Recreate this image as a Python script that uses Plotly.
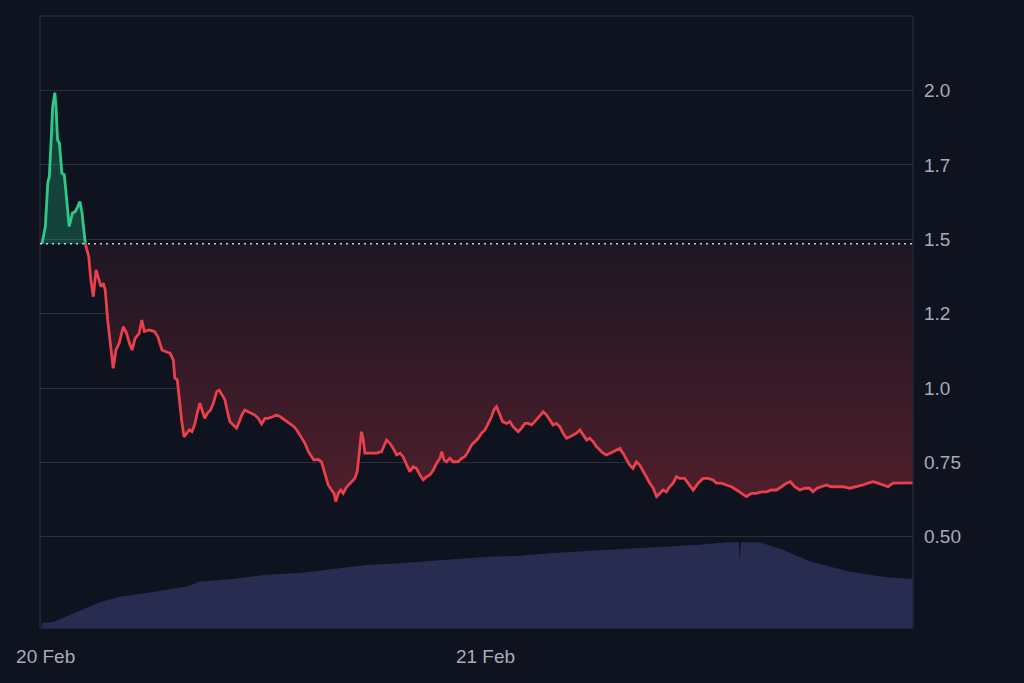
import pandas as pd
import plotly.graph_objects as go

# ---- data ----
START = "2024-02-19 23:48"
BASELINE = 1.485  # opening price (dotted line)

green_minutes = [0, 11, 19, 24, 29, 35, 42, 46, 51, 57, 65, 73, 81, 89, 100, 109, 117, 124, 131, 142]
green_price = [1.485, 1.543, 1.690, 1.711, 1.812, 1.946, 1.993, 1.946, 1.834, 1.824, 1.723, 1.717,
               1.633, 1.543, 1.589, 1.593, 1.610, 1.627, 1.589, 1.485]

red_minutes = [142, 153, 160, 168, 177, 186, 193, 201, 207, 215, 226, 233, 242, 253, 266, 277, 286, 295,
               305, 318, 327, 335, 351, 368, 379, 393, 406, 419, 430, 435, 443, 449, 457, 465, 474, 482,
               491, 501, 508, 517, 524, 533, 541, 552, 561, 572, 580, 588, 599, 606, 615, 626, 637, 646,
               654, 664, 675, 686, 697, 708, 719, 730, 741, 757, 768, 779, 795, 812, 825, 834, 847, 861,
               872, 883, 890, 904, 915, 926, 937, 948, 956, 962, 970, 978, 986, 997, 1014, 1024, 1032,
               1038, 1046, 1052, 1057, 1073, 1095, 1112, 1119, 1128, 1139, 1150, 1161, 1172, 1182, 1194,
               1204, 1215, 1226, 1237, 1248, 1259, 1270, 1281, 1292, 1303, 1309, 1316, 1324, 1335, 1346,
               1362, 1374, 1384, 1395, 1406, 1417, 1428, 1439, 1450, 1461, 1472, 1479, 1488, 1497, 1508,
               1521, 1532, 1542, 1559, 1570, 1581, 1592, 1603, 1613, 1630, 1641, 1652, 1663, 1673, 1684,
               1695, 1706, 1717, 1728, 1739, 1750, 1761, 1772, 1783, 1793, 1804, 1815, 1826, 1837, 1848,
               1859, 1870, 1881, 1892, 1902, 1914, 1924, 1935, 1946, 1957, 1968, 1979, 1990, 2001, 2012,
               2023, 2033, 2044, 2055, 2066, 2077, 2088, 2104, 2115, 2132, 2148, 2164, 2181, 2197, 2208,
               2224, 2241, 2257, 2274, 2290, 2306, 2323, 2339, 2355, 2372, 2388, 2405, 2421, 2437, 2450,
               2464, 2481, 2497, 2513, 2524, 2537, 2552, 2568, 2584, 2601, 2622, 2644, 2666, 2688, 2704,
               2721, 2737, 2753, 2770, 2786, 2808, 2830, 2850]
red_price = [1.485, 1.442, 1.363, 1.307, 1.397, 1.363, 1.341, 1.352, 1.330, 1.229, 1.139, 1.066, 1.128,
             1.151, 1.206, 1.184, 1.151, 1.128, 1.167, 1.184, 1.229, 1.190, 1.195, 1.190, 1.173, 1.128,
             1.122, 1.117, 1.094, 1.033, 1.027, 0.960, 0.893, 0.836, 0.848, 0.859, 0.853, 0.881, 0.915,
             0.949, 0.926, 0.898, 0.915, 0.926, 0.949, 0.988, 0.993, 0.977, 0.960, 0.926, 0.887, 0.876,
             0.865, 0.887, 0.909, 0.926, 0.920, 0.915, 0.909, 0.898, 0.879, 0.898, 0.898, 0.904, 0.909,
             0.904, 0.893, 0.881, 0.870, 0.859, 0.836, 0.814, 0.786, 0.769, 0.758, 0.760, 0.752, 0.713,
             0.674, 0.657, 0.646, 0.618, 0.646, 0.657, 0.646, 0.667, 0.685, 0.696, 0.719, 0.781, 0.853,
             0.825, 0.781, 0.781, 0.781, 0.786, 0.803, 0.825, 0.814, 0.797, 0.775, 0.781, 0.769, 0.741,
             0.719, 0.735, 0.730, 0.708, 0.691, 0.702, 0.708, 0.724, 0.747, 0.764, 0.786, 0.758, 0.752,
             0.764, 0.752, 0.752, 0.764, 0.769, 0.786, 0.808, 0.820, 0.831, 0.848, 0.859, 0.881, 0.904,
             0.926, 0.937, 0.915, 0.887, 0.881, 0.887, 0.870, 0.853, 0.865, 0.881, 0.881, 0.876, 0.887,
             0.909, 0.920, 0.909, 0.893, 0.876, 0.881, 0.870, 0.848, 0.831, 0.836, 0.842, 0.848, 0.859,
             0.842, 0.825, 0.831, 0.820, 0.803, 0.792, 0.781, 0.775, 0.781, 0.786, 0.792, 0.797, 0.781,
             0.758, 0.741, 0.730, 0.752, 0.741, 0.719, 0.702, 0.680, 0.663, 0.635, 0.646, 0.657, 0.651,
             0.668, 0.680, 0.702, 0.696, 0.696, 0.680, 0.657, 0.680, 0.696, 0.696, 0.691, 0.680, 0.680,
             0.674, 0.668, 0.657, 0.646, 0.635, 0.646, 0.646, 0.651, 0.651, 0.657, 0.657, 0.668, 0.680,
             0.685, 0.668, 0.657, 0.663, 0.663, 0.651, 0.663, 0.668, 0.674, 0.668, 0.668, 0.668, 0.663,
             0.668, 0.674, 0.680, 0.685, 0.680, 0.674, 0.668, 0.680, 0.680, 0.680, 0.681]

volume_minutes = [0, 37, 81, 190, 255, 353, 474, 517, 625, 735, 844, 952, 1063, 1172, 1335, 1443, 1564,
                  1663, 1826, 1990, 2153, 2241, 2281, 2284, 2288, 2349, 2425, 2513, 2644, 2764, 2850]
volume = [8, 10, 19, 42, 51, 58, 68, 76, 80, 87, 90, 96, 103, 106, 112, 116, 118, 122, 127, 132, 136,
          140, 140, 109, 140, 140, 128, 109, 92, 83, 80]

y_tickvals = [0.5, 0.75, 1.0, 1.25, 1.5, 1.75, 2.0]
y_ticktext = ["0.50", "0.75", "1.0", "1.2", "1.5", "1.7", "2.0"]

X_RANGE = ["2024-02-19 23:41:30", "2024-02-21 23:19:30"]
Y_RANGE = [0.193, 2.251]
VOL_RANGE = [0, 1000]

# ---- build ----
t0 = pd.Timestamp(START)
def to_time(mins):
    return [t0 + pd.Timedelta(minutes=m) for m in mins]

BG = "#0e131f"
GRID = "#2a2f3c"
RED = "#ea3f4c"
GREEN = "#2fc987"
TICK = "#a7acb8"

fig = go.Figure()

gx = to_time(green_minutes)
rx = to_time(red_minutes)

# green segment
fig.add_trace(go.Scatter(x=gx, y=[BASELINE] * len(gx), mode="lines",
                         line=dict(width=0), hoverinfo="skip", showlegend=False))
fig.add_trace(go.Scatter(x=gx, y=green_price, mode="lines", fill="tonexty",
                         fillcolor="rgba(40,190,130,0.28)",
                         line=dict(color=GREEN, width=2.8), showlegend=False))

# red segment
fig.add_trace(go.Scatter(x=rx, y=[BASELINE] * len(rx), mode="lines",
                         line=dict(width=0), hoverinfo="skip", showlegend=False))
fig.add_trace(go.Scatter(x=rx, y=red_price, mode="lines", fill="tonexty",
                         fillgradient=dict(type="vertical",
                                           colorscale=[[0, "rgb(80,30,43)"], [1, "rgb(29,23,35)"]]),
                         line=dict(color=RED, width=2.8), showlegend=False))

# volume
fig.add_trace(go.Scatter(x=to_time(volume_minutes), y=volume, mode="lines", fill="tozeroy",
                         fillcolor="#272c50", line=dict(width=0, color="#272c50"),
                         yaxis="y2", showlegend=False))

fig.add_hline(y=BASELINE, line=dict(color="rgba(225,228,235,0.9)", width=1.5, dash="2px,4px"))

fig.add_shape(type="rect", xref="paper", yref="paper", x0=0, x1=1, y0=0, y1=1,
              line=dict(color="#2f3543", width=1), layer="below")

fig.update_layout(
    width=1024, height=683,
    paper_bgcolor=BG, plot_bgcolor=BG,
    margin=dict(l=40, r=111, t=16, b=55),
    font=dict(family="Arial, Liberation Sans, sans-serif", color=TICK, size=19),
    xaxis=dict(type="date", range=X_RANGE, showgrid=False, zeroline=False, showline=False,
               dtick=86400000, tick0="2024-02-20", tickformat="%-d %b", ticks="",
               ticklabelstandoff=15, tickfont=dict(size=19, color=TICK)),
    yaxis=dict(range=Y_RANGE, side="right", tickvals=y_tickvals, ticktext=y_ticktext,
               showgrid=True, gridcolor=GRID, gridwidth=1, zeroline=False, showline=False,
               ticks="", ticklabelstandoff=10, tickfont=dict(size=19, color=TICK)),
    yaxis2=dict(range=VOL_RANGE, overlaying="y", visible=False, showgrid=False),
    showlegend=False,
    hovermode=False,
)

fig.write_html("out.html")
